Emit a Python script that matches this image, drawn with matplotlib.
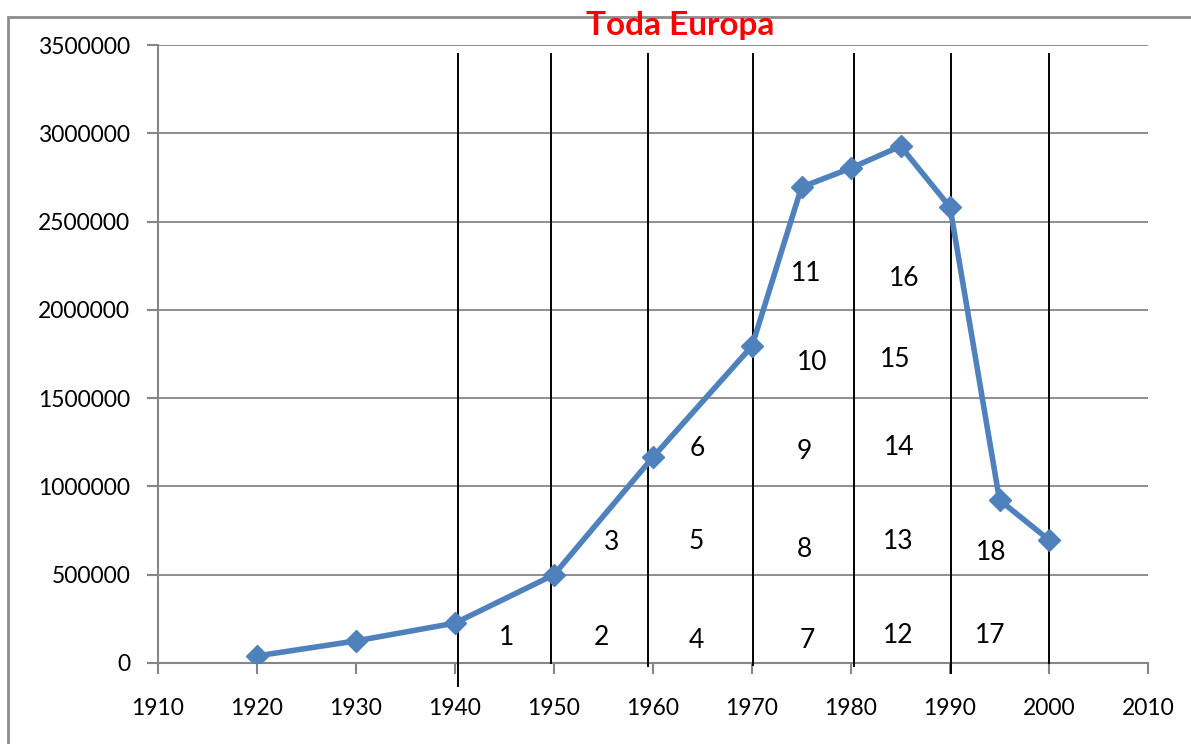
import matplotlib.pyplot as plt
from matplotlib.patches import Rectangle

years = [1920, 1930, 1940, 1950, 1960, 1970, 1975, 1980, 1985, 1990, 1995, 2000]
values = [40000, 125000, 226000, 500000, 1166000, 1795000, 2695000, 2803000,
          2927000, 2582000, 923000, 697000]

# hand drawn separators: x, bottom value
sep_x = [1940.3, 1949.7, 1959.5, 1970.1, 1980.3, 1990.1, 2000.0]
sep_bottom = [-130000, 0, -15000, -10000, -15000, -55000, 0]
sep_top = 3448000

cell_labels = ["1", "2", "3", "4", "5", "6", "7", "8", "9", "10", "11",
               "12", "13", "14", "15", "16", "17", "18"]
cell_x = [1945.2, 1954.8, 1955.8, 1964.4, 1964.4, 1964.5, 1975.6, 1975.3, 1975.3,
          1976.1, 1975.5, 1984.8, 1984.8, 1984.9, 1984.5, 1985.4, 1994.1, 1994.2]
cell_y = [147000, 147000, 680000, 130000, 690000, 1212000, 125000, 640000, 1200000,
          1704000, 2208000, 153000, 690000, 1223000, 1721000, 2180000, 158000, 628000]

plt.rcParams['font.family'] = ['Lato', 'DejaVu Sans']

fig = plt.figure(figsize=(11.91, 7.44), dpi=100)
ax = fig.add_axes([0.1327, 0.1089, 0.9639 - 0.1327, 0.9395 - 0.1089])

grey = "#868686"
ax.set_xlim(1910, 2010)
ax.set_ylim(0, 3500000)
ax.set_xticks(range(1910, 2011, 10))
ax.set_yticks(range(0, 3500001, 500000))
ax.set_yticklabels([str(v) for v in range(0, 3500001, 500000)])
ax.grid(axis="y", color=grey, lw=1.3)
ax.set_axisbelow(True)
for s in ["top", "right"]:
    ax.spines[s].set_visible(False)
for s in ["left", "bottom"]:
    ax.spines[s].set_color(grey)
    ax.spines[s].set_linewidth(1.5)
ax.tick_params(axis="both", colors=grey, length=8, width=1.5, labelcolor="black",
               labelsize=16.5)
ax.tick_params(axis="x", pad=17)
ax.tick_params(axis="y", pad=12)

for x, b in zip(sep_x, sep_bottom):
    ax.plot([x, x], [b, sep_top], color="black", lw=1.4, clip_on=False, zorder=3)

ax.plot(years, values, color="#4F81BD", lw=4, marker="D", markersize=11,
        zorder=4)

for t, x, y in zip(cell_labels, cell_x, cell_y):
    ax.text(x, y, t, fontsize=19, ha="center", va="center", zorder=5)

fig.patches.append(Rectangle((0.0067, -0.1), 1.2, 0.977 + 0.1, transform=fig.transFigure,
                             fill=False, edgecolor="#8c8c8c", lw=2))
fig.text(0.571, 0.966, "Toda Europa", color="red", fontsize=24, fontweight="bold",
         ha="center", va="center")

fig.savefig("out.png", dpi=100)
